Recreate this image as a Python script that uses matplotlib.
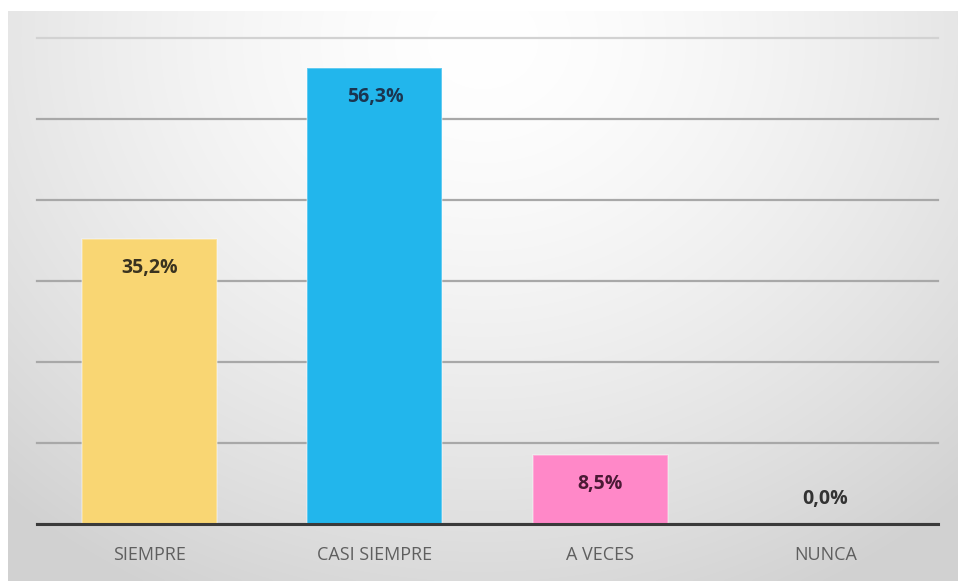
import numpy as np
import matplotlib.pyplot as plt

categorias = ['SIEMPRE', 'CASI SIEMPRE', 'A VECES', 'NUNCA']
porcentajes = [35.2, 56.3, 8.5, 0.0]
colores = ['#F9D673', '#22B6EC', '#FF88C8', '#FFFFFF']
colores_texto = ['#3a3320', '#1b3550', '#4a1a35', '#333333']

W, H = 958, 581
fig = plt.figure(figsize=(W / 100, H / 100), dpi=100)
fig.patch.set_facecolor('white')

# fondo con degradado radial (claro arriba al centro, gris en los bordes)
bg = fig.add_axes([8 / W, 0, 1 - 8 / W, 1 - 11 / H])
bg.set_axis_off()
yy, xx = np.mgrid[0:1:300j, 0:1:500j]
r = np.sqrt(((xx - 0.5) / 0.75) ** 2 + ((yy - 0.05) / 1.1) ** 2)
r = np.clip(r, 0, 1)
shade = 1.0 - 0.18 * r ** 1.5
img = np.dstack([shade, shade, shade])
bg.imshow(img, aspect='auto', extent=[0, 1, 1, 0], interpolation='bicubic')

# area del grafico
ax = fig.add_axes([37 / W, (H - 524) / H, (938 - 37) / W, (524 - 38) / H])
ax.patch.set_alpha(0)
x = np.arange(len(categorias))
barras = ax.bar(x, porcentajes, width=0.6, color=colores, zorder=3,
                edgecolor=[(1, 1, 1, 0.35)] * 4, linewidth=1.2)
for b, v in zip(barras, porcentajes):
    if v == 0:
        b.set_visible(False)

ax.set_xlim(-0.5, len(categorias) - 0.5)
ax.set_ylim(0, 60)
ax.set_yticks(np.arange(0, 61, 10))
ax.yaxis.grid(True, color='#a8a8a8', linewidth=1.6, zorder=0)
lineas = ax.get_ygridlines()
for g in lineas:
    g.set_clip_on(False)
lineas[-1].set_color('#d2d2d2')  # la linea superior es mas tenue
ax.tick_params(axis='y', left=False, labelleft=False)
ax.tick_params(axis='x', bottom=False, labelsize=13, labelcolor='#5f5f5f', pad=12)
ax.set_xticks(x)
ax.set_xticklabels(categorias, fontfamily='Open Sans')
for s in ['top', 'right', 'left']:
    ax.spines[s].set_visible(False)
ax.spines['bottom'].set_color('#3a3a3a')
ax.spines['bottom'].set_linewidth(2.2)
ax.spines['bottom'].set_zorder(4)

for xi, v, c in zip(x, porcentajes, colores_texto):
    etiqueta = f'{v:.1f}%'.replace('.', ',')
    dy = -21 if v > 0 else 18
    ax.annotate(etiqueta, (xi, v), xytext=(0, dy), textcoords='offset points',
                ha='center', va='center', fontsize=14, fontweight='bold',
                color=c, fontfamily='Open Sans', zorder=5)

fig.savefig('out.png', dpi=100)
